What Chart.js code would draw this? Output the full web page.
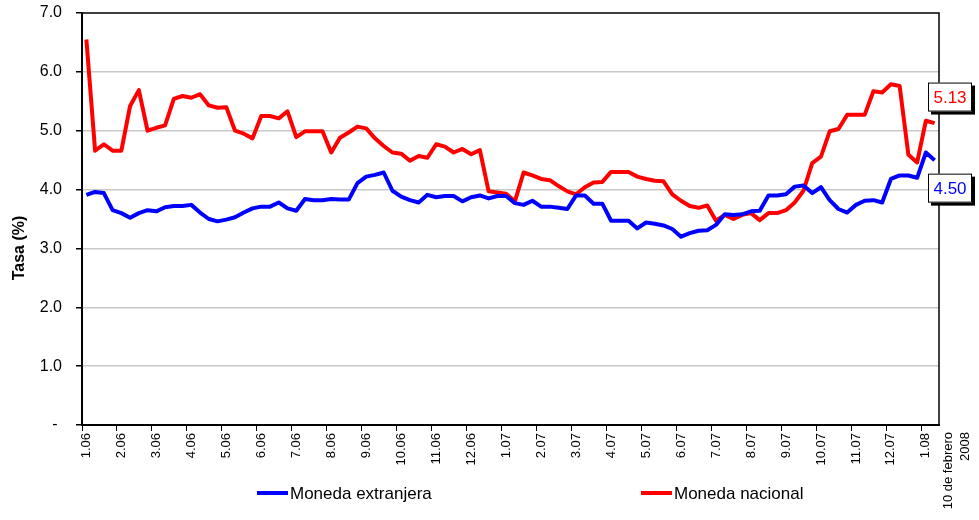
<!DOCTYPE html>
<html>
<head>
<meta charset="utf-8">
<script src="https://cdn.jsdelivr.net/npm/chart.js@4/dist/chart.umd.min.js"></script>
<style>
  body { margin: 0; background: #fff; }
  #grafico { display: block; }
</style>
</head>
<body>
<canvas id="grafico" width="979" height="520"></canvas>
<script>
// Etiquetas de los meses (una cada 4 semanas)
const etiquetasMes = ['1.06', '2.06', '3.06', '4.06', '5.06', '6.06', '7.06', '8.06', '9.06', '10.06', '11.06', '12.06',
    '1.07', '2.07', '3.07', '4.07', '5.07', '6.07', '7.07', '8.07', '9.07', '10.07', '11.07', '12.07', '1.08'];
const etiquetaFinal = ['10 de febrero', '2008'];

// Tasas semanales (%)
const monedaNacional = [
    6.55, 4.66, 4.77, 4.66, 4.66, 5.42, 5.69, 5.00, 5.05, 5.09, 5.54, 5.59, 5.56, 5.62, 5.43, 5.39,
    5.40, 5.00, 4.95, 4.87, 5.25, 5.25, 5.21, 5.33, 4.89, 4.99, 4.99, 4.99, 4.63, 4.88, 4.97, 5.07,
    5.04, 4.87, 4.74, 4.63, 4.61, 4.49, 4.57, 4.54, 4.77, 4.73, 4.63, 4.69, 4.60, 4.67, 3.97, 3.95,
    3.93, 3.80, 4.29, 4.24, 4.18, 4.16, 4.06, 3.97, 3.92, 4.04, 4.12, 4.13, 4.30, 4.30, 4.30, 4.22,
    4.18, 4.15, 4.14, 3.92, 3.81, 3.72, 3.69, 3.73, 3.47, 3.57, 3.50, 3.57, 3.60, 3.48, 3.60, 3.60,
    3.65, 3.78, 3.98, 4.45, 4.56, 4.99, 5.03, 5.27, 5.27, 5.27, 5.67, 5.65, 5.79, 5.76, 4.59, 4.46, 5.17, 5.13
];
const monedaExtranjera = [
    3.91, 3.96, 3.94, 3.65, 3.60, 3.52, 3.60, 3.65, 3.63, 3.70, 3.72, 3.72, 3.74, 3.61, 3.50, 3.46,
    3.49, 3.53, 3.61, 3.68, 3.71, 3.71, 3.78, 3.68, 3.64, 3.84, 3.82, 3.82, 3.84, 3.83, 3.83, 4.11,
    4.22, 4.25, 4.29, 3.98, 3.88, 3.82, 3.78, 3.91, 3.87, 3.89, 3.89, 3.80, 3.87, 3.90, 3.85, 3.89,
    3.89, 3.77, 3.74, 3.81, 3.71, 3.71, 3.69, 3.67, 3.90, 3.90, 3.76, 3.76, 3.47, 3.47, 3.47, 3.34,
    3.44, 3.42, 3.39, 3.33, 3.20, 3.26, 3.30, 3.31, 3.40, 3.58, 3.57, 3.58, 3.63, 3.64, 3.90, 3.90,
    3.92, 4.05, 4.07, 3.94, 4.04, 3.82, 3.67, 3.61, 3.74, 3.81, 3.82, 3.78, 4.18, 4.24, 4.24, 4.20, 4.63, 4.50
];

const FUENTE = '"Liberation Sans", Arial, sans-serif';

// una etiqueta cada 4 semanas, vacía en el resto
const etiquetas = monedaNacional.map((v, i) => (i % 4 === 0 && etiquetasMes[i / 4]) ? etiquetasMes[i / 4] : '');

// Marco del área, título del eje, cuadros con el último valor, etiqueta final y leyenda
const extras = {
    id: 'extras',
    beforeDatasetsDraw(chart) {
        const a = chart.chartArea;
        const ctx = chart.ctx;
        ctx.save();
        ctx.strokeStyle = '#000';
        ctx.lineWidth = 1.5;
        ctx.beginPath();
        ctx.moveTo(a.left, a.top);
        ctx.lineTo(a.right, a.top);
        ctx.lineTo(a.right, a.bottom);
        ctx.stroke();
        ctx.restore();
    },
    afterDraw(chart) {
        const ctx = chart.ctx;
        const a = chart.chartArea;
        const y = chart.scales.y;
        ctx.save();

        // título del eje Y
        ctx.fillStyle = '#000';
        ctx.font = 'bold 16px ' + FUENTE;
        ctx.textAlign = 'center';
        ctx.textBaseline = 'middle';
        ctx.save();
        ctx.translate(20, 248);
        ctx.rotate(-Math.PI / 2);
        ctx.fillText('Tasa (%)', 0, 0);
        ctx.restore();

        // cuadros con el último dato
        const cuadro = (valor, color, dy) => {
            const cy = y.getPixelForValue(valor) + dy;
            const cx = a.right + 11;
            const w = 44, h = 29;
            ctx.fillStyle = '#000';
            ctx.fillRect(cx - w / 2 + 3, cy - h / 2 + 3, w, h);
            ctx.fillStyle = '#fff';
            ctx.fillRect(cx - w / 2, cy - h / 2, w, h);
            ctx.strokeStyle = '#000';
            ctx.lineWidth = 1;
            ctx.strokeRect(cx - w / 2 + 0.5, cy - h / 2 + 0.5, w - 1, h - 1);
            ctx.fillStyle = color;
            ctx.font = '17px ' + FUENTE;
            ctx.textAlign = 'center';
            ctx.textBaseline = 'middle';
            ctx.fillText(valor.toFixed(2), cx, cy + 1);
        };
        cuadro(monedaNacional[monedaNacional.length - 1], '#ff0000', -26);
        cuadro(monedaExtranjera[monedaExtranjera.length - 1], '#0000ff', 28);

        // etiqueta "10 de febrero 2008"
        ctx.fillStyle = '#000';
        ctx.font = '13px ' + FUENTE;
        ctx.textAlign = 'right';
        ctx.textBaseline = 'middle';
        etiquetaFinal.forEach((t, k) => {
            ctx.save();
            ctx.translate(a.right + 9 + k * 17, a.bottom + 7);
            ctx.rotate(-Math.PI / 2);
            ctx.fillText(t, 0, 0);
            ctx.restore();
        });

        // leyenda
        const items = [
            { texto: 'Moneda extranjera', color: '#0000ff', x: 257 },
            { texto: 'Moneda nacional', color: '#ff0000', x: 641 }
        ];
        const ly = 493;
        items.forEach(it => {
            ctx.strokeStyle = it.color;
            ctx.lineWidth = 4;
            ctx.beginPath();
            ctx.moveTo(it.x, ly);
            ctx.lineTo(it.x + 31, ly);
            ctx.stroke();
            ctx.fillStyle = '#000';
            ctx.font = '17px ' + FUENTE;
            ctx.textAlign = 'left';
            ctx.textBaseline = 'middle';
            ctx.fillText(it.texto, it.x + 33, ly + 1);
        });
        ctx.restore();
    }
};

new Chart(document.getElementById('grafico').getContext('2d'), {
    type: 'line',
    data: {
        labels: etiquetas,
        datasets: [
            {
                label: 'Moneda extranjera',
                data: monedaExtranjera,
                borderColor: '#0000ff',
                backgroundColor: '#0000ff',
                borderWidth: 4,
                tension: 0,
                pointRadius: 0,
                borderJoinStyle: 'round',
                fill: false
            },
            {
                label: 'Moneda nacional',
                data: monedaNacional,
                borderColor: '#ff0000',
                backgroundColor: '#ff0000',
                borderWidth: 4,
                tension: 0,
                pointRadius: 0,
                borderJoinStyle: 'round',
                fill: false
            }
        ]
    },
    options: {
        responsive: false,
        animation: false,
        layout: {
            padding: { top: 13, right: 40, left: 0, bottom: 0 }
        },
        plugins: {
            legend: { display: false },
            tooltip: { enabled: false }
        },
        scales: {
            x: {
                type: 'category',
                offset: true,
                afterFit(scale) { scale.height = 95; },
                grid: {
                    offset: true,
                    drawOnChartArea: false,
                    drawTicks: true,
                    tickLength: 6,
                    tickColor: (c) => (c.index % 4 === 0 && c.index <= 96) ? '#000' : 'rgba(0,0,0,0)'
                },
                border: { color: '#000', width: 2 },
                ticks: {
                    autoSkip: false,
                    minRotation: 90,
                    maxRotation: 90,
                    padding: 2,
                    color: '#000',
                    font: { family: FUENTE, size: 13 }
                }
            },
            y: {
                min: 0,
                max: 7,
                afterFit(scale) {
                    scale.width = 82;
                    scale.paddingTop = 0;
                    scale.paddingBottom = 0;
                },
                grid: {
                    color: (c) => (c.tick && (c.tick.value === 0 || c.tick.value === 7)) ? 'rgba(0,0,0,0)' : '#c8c8c8',
                    lineWidth: 1.5,
                    tickLength: 6,
                    tickColor: '#000'
                },
                border: { color: '#000', width: 2 },
                ticks: {
                    stepSize: 1,
                    padding: 14,
                    color: '#000',
                    font: { family: FUENTE, size: 16 },
                    callback: (v) => v === 0 ? '- ' : v.toFixed(1)
                }
            }
        }
    },
    plugins: [extras]
});
</script>
</body>
</html>
